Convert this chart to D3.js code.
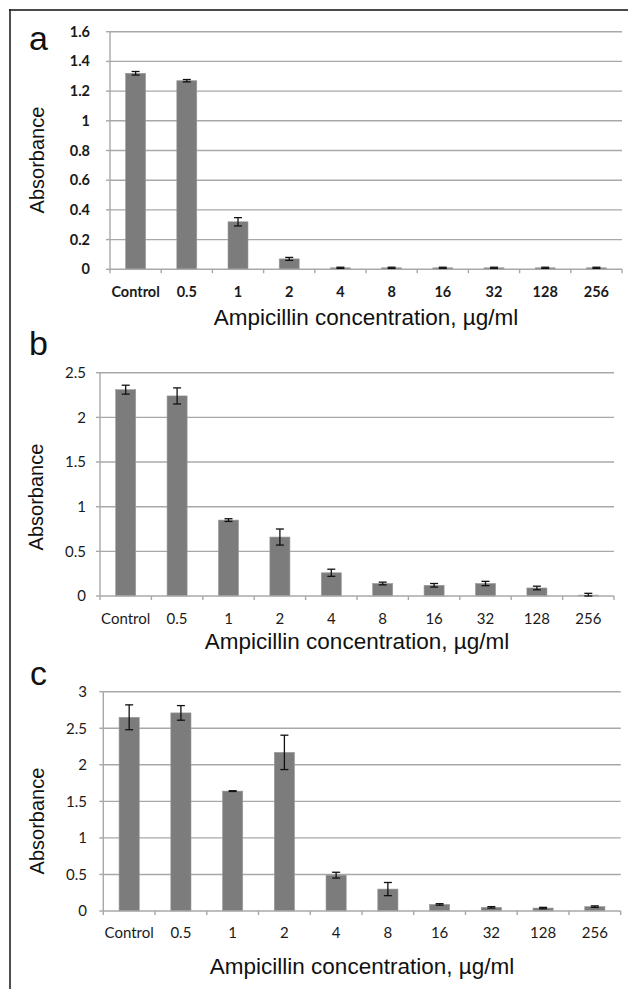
<!DOCTYPE html>
<html>
<head>
<meta charset="utf-8">
<script src="https://cdn.jsdelivr.net/npm/d3@7"></script>
<style>
html,body{margin:0;padding:0;background:#fff;}
svg{display:block;}
</style>
</head>
<body>
<script>
// ---------- data ----------
const categories = ["Control","0.5","1","2","4","8","16","32","128","256"];
const meanA = [1.32,1.27,0.32,0.07,0.01,0.01,0.01,0.01,0.01,0.01];
const errA  = [0.012,0.008,0.028,0.01,0.004,0.004,0.004,0.004,0.004,0.004];
const meanB = [2.31,2.24,0.85,0.66,0.26,0.14,0.12,0.14,0.09,0.01];
const errB  = [0.05,0.09,0.015,0.09,0.04,0.015,0.02,0.024,0.02,0.02];
const meanC = [2.65,2.71,1.64,2.17,0.49,0.30,0.09,0.05,0.04,0.06];
const errC  = [0.17,0.10,0.005,0.235,0.04,0.09,0.01,0.01,0.01,0.01];
const ticksA = [0,0.2,0.4,0.6,0.8,1,1.2,1.4,1.6];
const ticksB = [0,0.5,1,1.5,2,2.5];
const ticksC = [0,0.5,1,1.5,2,2.5,3];
const panelLetters = ["a","b","c"];
const yTitle = "Absorbance";
const xTitle = "Ampicillin concentration, µg/ml";

// ---------- layout ----------
const W = 628, H = 989;
const svg = d3.select("body").append("svg").attr("width", W).attr("height", H);

// outer frame (top & left visible)
svg.append("line").attr("x1",9).attr("x2",W).attr("y1",10).attr("y2",10)
  .attr("stroke","#4a4a4a").attr("stroke-width",2);
svg.append("line").attr("x1",10).attr("x2",10).attr("y1",9).attr("y2",H)
  .attr("stroke","#222").attr("stroke-width",1.6);

const panels = [
  {letter:panelLetters[0], mean:meanA, err:errA, ticks:ticksA, max:1.6,
   left:110, right:622, top:31.7, bottom:269.3, ylabX:90, xTickY:297, titleY:325,
   absX:37, absY:160, letX:29, letY:50, bold:true},
  {letter:panelLetters[1], mean:meanB, err:errB, ticks:ticksB, max:2.5,
   left:100, right:614, top:372.7, bottom:596, ylabX:86, xTickY:624, titleY:649,
   absX:36, absY:497, letX:29, letY:355, bold:false},
  {letter:panelLetters[2], mean:meanC, err:errC, ticks:ticksC, max:3,
   left:103.3, right:620.7, top:691.7, bottom:911, ylabX:87, xTickY:938, titleY:974,
   absX:37, absY:821, letX:30, letY:685, bold:false}
];

const gridCol = "#a8a8a8";
const barCol = "#7c7c7c";

panels.forEach(p => {
  const g = svg.append("g");
  const x = d3.scaleBand().domain(categories).range([p.left, p.right]).padding(0);
  const y = d3.scaleLinear().domain([0, p.max]).range([p.bottom, p.top]);
  const bw = x.bandwidth() * 0.39;
  const tickFont = p.bold ? 14.5 : 15;

  // gridlines
  g.selectAll(".grid").data(p.ticks.filter(t => t > 0)).enter().append("line")
    .attr("x1", p.left).attr("x2", p.right)
    .attr("y1", d => y(d)).attr("y2", d => y(d))
    .attr("stroke", gridCol).attr("stroke-width", 1.4);

  // y axis line
  g.append("line").attr("x1", p.left).attr("x2", p.left)
    .attr("y1", p.top).attr("y2", p.bottom)
    .attr("stroke", gridCol).attr("stroke-width", 1.4);

  // y tick marks
  g.selectAll(".ytm").data(p.ticks).enter().append("line")
    .attr("x1", p.left - 4).attr("x2", p.left)
    .attr("y1", d => y(d)).attr("y2", d => y(d))
    .attr("stroke", gridCol).attr("stroke-width", 1.4);

  // y tick labels
  g.selectAll(".ylab").data(p.ticks).enter().append("text")
    .attr("x", p.ylabX).attr("y", d => y(d))
    .attr("dy", "0.35em").attr("text-anchor", "end")
    .attr("font-family", "Lato, 'Open Sans', sans-serif")
    .attr("font-size", tickFont).attr("font-weight", p.bold ? 700 : 400)
    .attr("fill", "#1a1a1a")
    .text(d => d);

  // bars
  g.selectAll(".bar").data(categories).enter().append("rect")
    .attr("x", (d) => x(d) + x.bandwidth()/2 - bw/2)
    .attr("width", bw)
    .attr("y", (d,i) => y(p.mean[i]))
    .attr("height", (d,i) => y(0) - y(p.mean[i]))
    .attr("fill", barCol).attr("stroke", "#9a9a9a").attr("stroke-width", 0.6);

  // x axis line
  g.append("line").attr("x1", p.left).attr("x2", p.right)
    .attr("y1", p.bottom).attr("y2", p.bottom)
    .attr("stroke", gridCol).attr("stroke-width", 1.4);

  // x tick marks at band boundaries
  const bounds = categories.map(c => x(c)).concat([p.right]);
  g.selectAll(".xtm").data(bounds).enter().append("line")
    .attr("x1", d => d).attr("x2", d => d)
    .attr("y1", p.bottom).attr("y2", p.bottom + 4)
    .attr("stroke", gridCol).attr("stroke-width", 1.4);

  // error bars
  const eg = g.selectAll(".err").data(categories).enter().append("g");
  eg.append("line")
    .attr("x1", d => x(d) + x.bandwidth()/2).attr("x2", d => x(d) + x.bandwidth()/2)
    .attr("y1", (d,i) => y(p.mean[i] + p.err[i]))
    .attr("y2", (d,i) => y(Math.max(0, p.mean[i] - p.err[i])))
    .attr("stroke", "#111").attr("stroke-width", 1.3);
  ["plus","minus"].forEach(s => {
    eg.append("line")
      .attr("x1", d => x(d) + x.bandwidth()/2 - 4).attr("x2", d => x(d) + x.bandwidth()/2 + 4)
      .attr("y1", (d,i) => y(s === "plus" ? p.mean[i] + p.err[i] : Math.max(0, p.mean[i] - p.err[i])))
      .attr("y2", (d,i) => y(s === "plus" ? p.mean[i] + p.err[i] : Math.max(0, p.mean[i] - p.err[i])))
      .attr("stroke", "#111").attr("stroke-width", 1.3);
  });

  // x tick labels
  g.selectAll(".xlab").data(categories).enter().append("text")
    .attr("x", d => x(d) + x.bandwidth()/2).attr("y", p.xTickY)
    .attr("text-anchor", "middle")
    .attr("font-family", "Lato, 'Open Sans', sans-serif")
    .attr("font-size", tickFont).attr("font-weight", p.bold ? 700 : 400)
    .attr("fill", "#1a1a1a")
    .text(d => d);

  // x title
  g.append("text").attr("x", (p.left + p.right)/2).attr("y", p.titleY)
    .attr("text-anchor", "middle")
    .attr("font-family", "'Liberation Sans', Arial, sans-serif")
    .attr("font-size", 22.5).attr("fill", "#111")
    .text(xTitle);

  // y title
  g.append("text")
    .attr("transform", `translate(${p.absX},${p.absY}) rotate(-90)`)
    .attr("text-anchor", "middle").attr("dy", "0.35em")
    .attr("font-family", "'Liberation Sans', Arial, sans-serif")
    .attr("font-size", 20).attr("fill", "#111")
    .text(yTitle);

  // panel letter
  g.append("text").attr("x", p.letX).attr("y", p.letY)
    .attr("font-family", "'Liberation Sans', Arial, sans-serif")
    .attr("font-size", 34).attr("fill", "#111")
    .text(p.letter);
});
</script>
</body>
</html>
